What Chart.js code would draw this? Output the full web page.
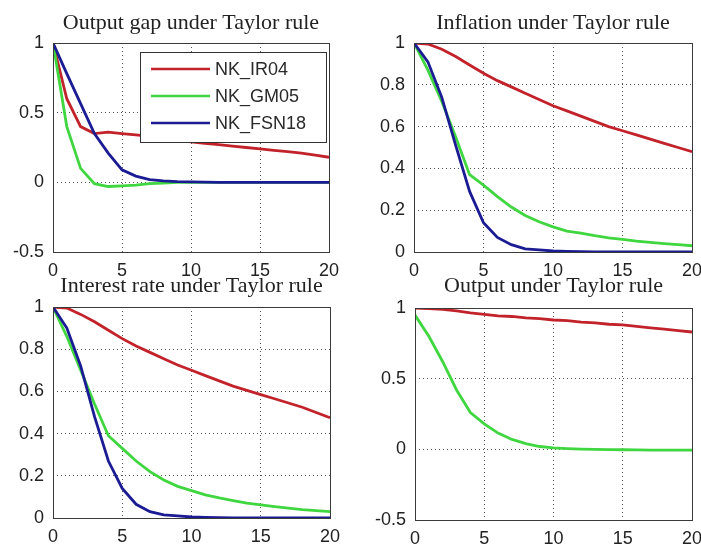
<!DOCTYPE html>
<html>
<head>
<meta charset="utf-8">
<script src="https://cdn.jsdelivr.net/npm/chart.js@4"></script>
<style>
  html, body { margin: 0; padding: 0; background: #fff; overflow: hidden; }
  #wrap { position: relative; width: 701px; height: 544px; overflow: hidden; }
  canvas { position: absolute; }
</style>
</head>
<body>
<div id="wrap">
  <canvas id="c1" width="350" height="290" style="left:0;top:0"></canvas>
  <canvas id="c2" width="371" height="290" style="left:350px;top:0"></canvas>
  <canvas id="c3" width="350" height="282" style="left:0;top:262px"></canvas>
  <canvas id="c4" width="371" height="282" style="left:350px;top:262px"></canvas>
</div>
<script>
// quarters after the shock
const periods = [0, 1, 2, 3, 4, 5, 6, 7, 8, 9, 10, 11, 12, 13, 14, 15, 16, 17, 18, 19, 20];
const models = ['NK_IR04', 'NK_GM05', 'NK_FSN18'];

const gapIR04  = [1, 0.60, 0.40, 0.35, 0.36, 0.35, 0.34, 0.33, 0.315, 0.30, 0.29, 0.28, 0.27, 0.26, 0.25, 0.24, 0.23, 0.22, 0.21, 0.195, 0.18];
const gapGM05  = [1, 0.40, 0.10, -0.01, -0.03, -0.025, -0.02, -0.01, -0.005, 0, 0, 0, 0, 0, 0, 0, 0, 0, 0, 0, 0];
const gapFSN18 = [1, 0.78, 0.565, 0.35, 0.21, 0.09, 0.045, 0.02, 0.01, 0.005, 0.003, 0.001, 0, 0, 0, 0, 0, 0, 0, 0, 0];

const infIR04  = [1, 0.995, 0.97, 0.935, 0.895, 0.855, 0.82, 0.79, 0.76, 0.73, 0.70, 0.675, 0.65, 0.625, 0.60, 0.58, 0.56, 0.54, 0.52, 0.50, 0.48];
const infGM05  = [1, 0.87, 0.72, 0.55, 0.37, 0.32, 0.265, 0.215, 0.175, 0.145, 0.12, 0.10, 0.09, 0.078, 0.068, 0.06, 0.052, 0.046, 0.04, 0.035, 0.03];
const infFSN18 = [1, 0.91, 0.74, 0.51, 0.29, 0.14, 0.07, 0.035, 0.015, 0.01, 0.005, 0.003, 0.002, 0.001, 0, 0, 0, 0, 0, 0, 0];

const rateIR04  = [1, 0.995, 0.965, 0.93, 0.89, 0.85, 0.815, 0.785, 0.755, 0.725, 0.70, 0.675, 0.65, 0.625, 0.605, 0.585, 0.565, 0.545, 0.525, 0.50, 0.475];
const rateGM05  = [1, 0.86, 0.70, 0.54, 0.39, 0.33, 0.27, 0.22, 0.18, 0.15, 0.13, 0.11, 0.095, 0.082, 0.07, 0.062, 0.054, 0.047, 0.04, 0.035, 0.03];
const rateFSN18 = [1, 0.90, 0.72, 0.48, 0.27, 0.14, 0.065, 0.03, 0.015, 0.01, 0.005, 0.003, 0.002, 0.001, 0, 0, 0, 0, 0, 0, 0];

const outIR04 = [1, 0.995, 0.99, 0.98, 0.965, 0.955, 0.945, 0.94, 0.93, 0.925, 0.915, 0.91, 0.90, 0.895, 0.885, 0.88, 0.87, 0.86, 0.85, 0.84, 0.83];
const outGM05 = [0.95, 0.80, 0.62, 0.42, 0.26, 0.18, 0.115, 0.07, 0.04, 0.02, 0.01, 0.005, 0.002, 0, -0.002, -0.003, -0.004, -0.005, -0.005, -0.005, -0.005];

const xTicks = [0, 5, 10, 15, 20];
const yTicksWide = [-0.5, 0, 0.5, 1];
const yTicksUnit = [0, 0.2, 0.4, 0.6, 0.8, 1];

const colors = ['#c2232b', '#40d640', '#1b1b94'];

// box around the plot area, like matlab "box on"
const boxPlugin = {
    id: 'axesBox',
    afterDatasetsDraw(chart) {
        const a = chart.chartArea;
        const ctx = chart.ctx;
        ctx.save();
        ctx.strokeStyle = '#3a3a3a';
        ctx.lineWidth = 1;
        ctx.strokeRect(Math.round(a.left) + 0.5, Math.round(a.top) + 0.5, Math.round(a.right - a.left), Math.round(a.bottom - a.top));
        ctx.restore();
    }
};

// legend drawn inside the axes
const innerLegend = {
    id: 'innerLegend',
    afterDraw(chart, args, opts) {
        if (!opts.show) return;
        const a = chart.chartArea;
        const ctx = chart.ctx;
        const bx = a.left + 87, by = a.top + 9, bw = 186, bh = 90;
        ctx.save();
        ctx.fillStyle = '#fff';
        ctx.fillRect(bx, by, bw, bh);
        ctx.strokeStyle = '#333';
        ctx.lineWidth = 1;
        ctx.strokeRect(bx + 0.5, by + 0.5, bw, bh);
        ctx.font = '18px "Liberation Sans", Arial, sans-serif';
        ctx.textBaseline = 'middle';
        chart.data.datasets.forEach(function (ds, i) {
            const y = by + 17 + i * 27;
            ctx.strokeStyle = ds.borderColor;
            ctx.lineWidth = 2.5;
            ctx.beginPath();
            ctx.moveTo(bx + 11, y);
            ctx.lineTo(bx + 70, y);
            ctx.stroke();
            ctx.fillStyle = '#2a2a2a';
            ctx.fillText(ds.label, bx + 75, y + 1);
        });
        ctx.restore();
    }
};

function makePanel(id, title, series, yTicks, layout) {
    const datasets = series.map(function (vals, i) {
        return {
            label: models[i],
            data: periods.map(function (p, k) { return {x: p, y: vals[k]}; }),
            borderColor: colors[i],
            borderWidth: 2.8,
            pointRadius: 0,
            tension: 0,
            order: series.length - i
        };
    });
    new Chart(document.getElementById(id), {
        type: 'line',
        data: { datasets: datasets },
        options: {
            responsive: false,
            animation: false,
            devicePixelRatio: 1,
            layout: { padding: { right: layout.padRight, left: 0, top: 0, bottom: 0 } },
            plugins: {
                legend: { display: false },
                tooltip: { enabled: false },
                title: {
                    display: true,
                    text: title,
                    fullSize: false,
                    color: '#222',
                    font: { family: '"Liberation Serif", "Times New Roman", serif', size: 22, weight: 'normal', lineHeight: 1.2 },
                    padding: { top: layout.titleTop, bottom: layout.titleBottom }
                },
                innerLegend: { show: !!layout.legend }
            },
            scales: {
                x: {
                    type: 'linear',
                    min: 0,
                    max: 20,
                    afterBuildTicks: function (s) { s.ticks = xTicks.map(function (v) { return {value: v}; }); },
                    afterFit: function (s) { s.height = layout.xHeight; },
                    grid: { color: '#555', lineWidth: 1, drawTicks: false },
                    border: { display: false, dash: [1, 3] },
                    ticks: {
                        padding: 8,
                        color: '#222',
                        maxRotation: 0,
                        font: { family: '"Liberation Sans", Arial, sans-serif', size: 18 },
                        callback: function (v) { return String(v); }
                    }
                },
                y: {
                    min: yTicks[0],
                    max: yTicks[yTicks.length - 1],
                    afterBuildTicks: function (s) { s.ticks = yTicks.map(function (v) { return {value: v}; }); },
                    afterFit: function (s) { s.width = layout.yWidth; },
                    grid: { color: '#555', lineWidth: 1, drawTicks: false },
                    border: { display: false, dash: [1, 3] },
                    ticks: {
                        padding: 9,
                        color: '#222',
                        font: { family: '"Liberation Sans", Arial, sans-serif', size: 18 },
                        callback: function (v) { return String(v); }
                    }
                }
            }
        },
        plugins: [boxPlugin, innerLegend]
    });
}

makePanel('c1', 'Output gap under Taylor rule', [gapIR04, gapGM05, gapFSN18], yTicksWide,
    { padRight: 21, yWidth: 53, xHeight: 38, titleTop: 10, titleBottom: 6.6, legend: true });
makePanel('c2', 'Inflation under Taylor rule', [infIR04, infGM05, infFSN18], yTicksUnit,
    { padRight: 29, yWidth: 64, xHeight: 38, titleTop: 10, titleBottom: 6.6 });
makePanel('c3', 'Interest rate under Taylor rule', [rateIR04, rateGM05, rateFSN18], yTicksUnit,
    { padRight: 20, yWidth: 53, xHeight: 26, titleTop: 10.7, titleBottom: 7.9 });
makePanel('c4', 'Output under Taylor rule', [outIR04, outGM05], yTicksWide,
    { padRight: 29, yWidth: 65, xHeight: 24, titleTop: 11.1, titleBottom: 8.5 });
</script>
</body>
</html>
